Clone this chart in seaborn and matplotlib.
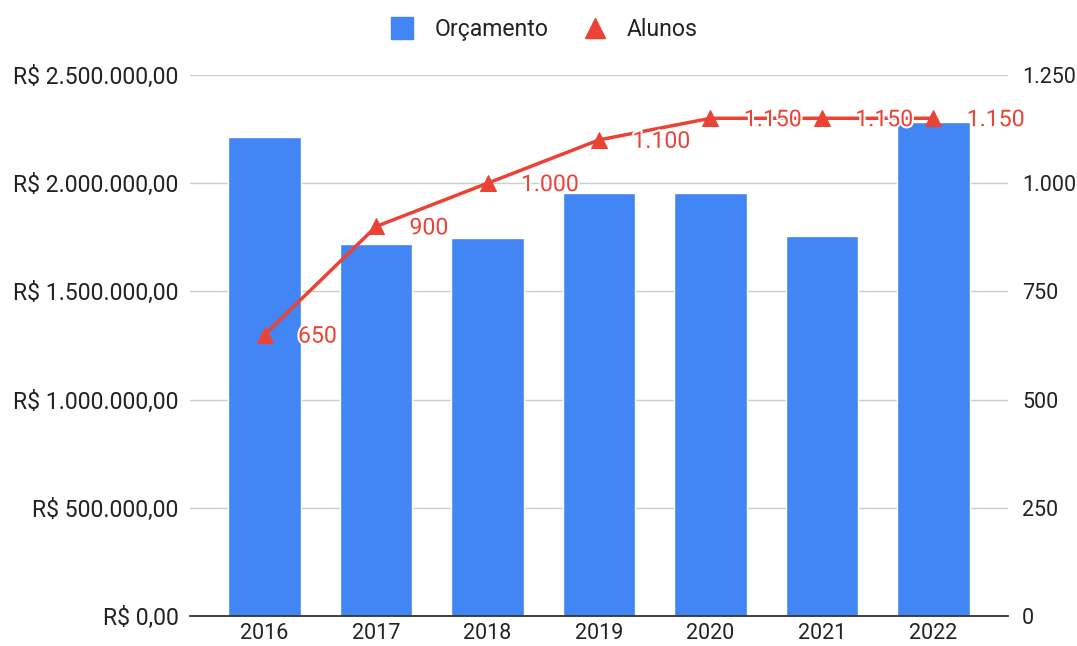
import pandas as pd
import numpy as np
import matplotlib.pyplot as plt
import matplotlib.patheffects as pe
from matplotlib.lines import Line2D
from matplotlib.ticker import FuncFormatter
import seaborn as sns

anos = ['2016', '2017', '2018', '2019', '2020', '2021', '2022']
orcamento = [2213000, 1718000, 1745000, 1957000, 1957000, 1755000, 2285000]
alunos = [650, 900, 1000, 1100, 1150, 1150, 1150]

df = pd.DataFrame({'ano': anos, 'orcamento': orcamento, 'alunos': alunos})

sns.set_style('white')
plt.rcParams['font.family'] = ['Roboto', 'DejaVu Sans']

azul = '#4285F4'
vermelho = '#EA4335'
fs = 16.6

def br(v, dec=0):
    s = f'{v:,.{dec}f}'
    return s.replace(',', 'X').replace('.', ',').replace('X', '.')

fig = plt.figure(figsize=(10.77, 6.46), dpi=100)
ax = fig.add_axes([0.1764, 0.0464, 0.7596, 0.8375])

sns.barplot(data=df, x='ano', y='orcamento', color=azul, saturation=1, width=0.65, ax=ax, zorder=2)
ax.set_ylim(0, 2500000)
ax.set_yticks(np.arange(0, 2500001, 500000))
ax.yaxis.set_major_formatter(FuncFormatter(lambda v, p: 'R$ ' + br(v, 2)))
ax.set_xlim(-0.67, 6.67)
ax.set_xlabel('')
ax.set_ylabel('')
ax.grid(axis='y', color='#cccccc', linewidth=1, zorder=0)
ax.set_axisbelow(True)
for s in ['top', 'right', 'left']:
    ax.spines[s].set_visible(False)
ax.spines['bottom'].set_color('#333333')
ax.spines['bottom'].set_linewidth(1.3)
ax.tick_params(axis='y', length=0, labelsize=fs, colors='#222222', pad=8)
ax.tick_params(axis='x', length=0, labelsize=15.5, colors='#222222', pad=5)

ax2 = ax.twinx()
sns.lineplot(x=np.arange(len(anos)), y=alunos, color=vermelho, linewidth=2.5,
             marker='^', markersize=12, markeredgecolor=vermelho, ax=ax2, zorder=3)
ax2.set_ylim(0, 1250)
ax2.set_yticks(np.arange(0, 1251, 250))
ax2.yaxis.set_major_formatter(FuncFormatter(lambda v, p: br(v)))
for s in ['top', 'right', 'left', 'bottom']:
    ax2.spines[s].set_visible(False)
ax2.tick_params(axis='y', length=0, labelsize=15.5, colors='#222222', pad=10)
ax2.set_ylabel('')

for i, a in enumerate(alunos):
    ax2.annotate(br(a), (i, a), xytext=(24, -1), textcoords='offset points',
                 ha='left', va='center', fontsize=fs, color=vermelho,
                 path_effects=[pe.withStroke(linewidth=3, foreground='white')])

handles = [Line2D([], [], marker='s', linestyle='', color=azul, markersize=16),
           Line2D([], [], marker='^', linestyle='', color=vermelho, markersize=14)]
fig.legend(handles, ['Orçamento', 'Alunos'], loc='center', bbox_to_anchor=(0.5, 0.955),
           ncol=2, frameon=False, fontsize=fs, handletextpad=0.4, columnspacing=1.0,
           labelcolor='#222222')

fig.savefig('out.png', dpi=100)
